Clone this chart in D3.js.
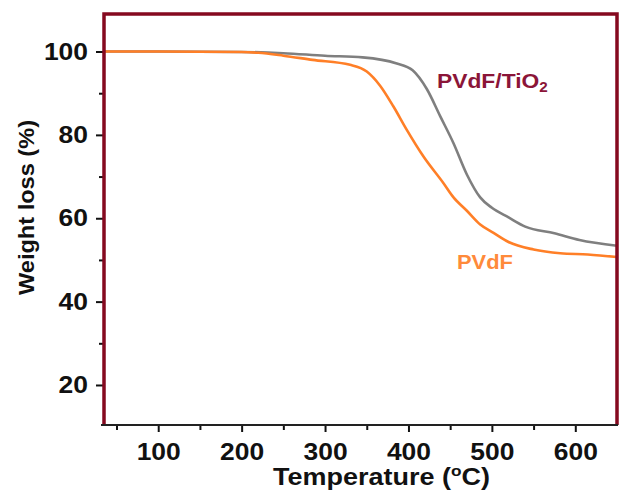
<!DOCTYPE html>
<html>
<head>
<meta charset="utf-8">
<script src="https://cdn.jsdelivr.net/npm/d3@7"></script>
<style>
  body { margin: 0; background: #fff; }
  svg { display: block; font-family: "Liberation Sans", Arial, sans-serif; }
</style>
</head>
<body>
<svg></svg>
<script>
// temperature (C) / weight (%)
const pvdfTemp   = [35, 100, 200, 220, 250, 285, 330, 350, 366, 382, 398, 418, 442, 454, 470, 486, 502, 520, 550, 582, 615, 650];
const pvdfWeight = [100, 100, 99.9, 99.7, 99, 98, 96.8, 95.2, 91.8, 86.8, 81.2, 74.8, 68.4, 65, 61.8, 58.5, 56.5, 54.3, 52.5, 51.6, 51.3, 50.7];

const tio2Temp   = [35, 100, 200, 250, 300, 345, 385, 405, 422, 438, 454, 470, 486, 500, 520, 540, 575, 605, 650];
const tio2Weight = [100, 100, 99.9, 99.6, 99, 98.6, 97.2, 95.5, 91, 84.5, 78, 70.5, 65, 62.5, 60.2, 58, 56.4, 54.8, 53.4];

const xTicks = [100, 200, 300, 400, 500, 600];
const xMinor = [50, 150, 250, 350, 450, 550];
const yTicks = [20, 40, 60, 80, 100];
const yMinor = [30, 50, 70, 90];

// the source font is drawn wide; stretch a text to a given width
function stretch(sel, width) {
  const w = sel.node().getBBox().width;
  return w ? width / w : 1;
}

function draw() {
  const svgWidth = 619, svgHeight = 491;
  const margin = { top: 14, right: 2, bottom: 66, left: 104 };
  const innerWidth  = svgWidth  - margin.left - margin.right;
  const innerHeight = svgHeight - margin.top  - margin.bottom;

  const svg = d3.select("svg")
    .attr("width", svgWidth)
    .attr("height", svgHeight);

  const xScale = d3.scaleLinear().domain([35, 650]).range([0, innerWidth]);
  const yScale = d3.scaleLinear().domain([10.4, 109]).range([innerHeight, 0]);

  const g = svg.append("g")
    .attr("transform", `translate(${margin.left},${margin.top})`);

  const xMinorG = g.append("g")
    .attr("transform", `translate(0,${innerHeight})`)
    .call(d3.axisBottom(xScale).tickValues(xMinor).tickSize(5).tickFormat(""));
  const xAxisG = g.append("g")
    .attr("transform", `translate(0,${innerHeight})`)
    .call(d3.axisBottom(xScale).tickValues(xTicks).tickSize(7).tickPadding(11));
  const yMinorG = g.append("g")
    .call(d3.axisLeft(yScale).tickValues(yMinor).tickSize(5).tickFormat(""));
  const yAxisG = g.append("g")
    .call(d3.axisLeft(yScale).tickValues(yTicks).tickSize(8).tickPadding(8));

  [xMinorG, xAxisG, yMinorG, yAxisG].forEach(a => {
    a.select(".domain").remove();
    a.selectAll(".tick line").attr("stroke", "#111").attr("stroke-width", 2);
  });
  [xAxisG, yAxisG].forEach(a => {
    a.selectAll(".tick text")
      .attr("fill", "#111")
      .attr("font-size", 23.5)
      .attr("font-weight", "bold")
      .attr("font-family", "'Liberation Sans', Arial, sans-serif")
      .attr("lengthAdjust", "spacingAndGlyphs")
      .attr("textLength", d => String(d).length * 14.7);
  });

  // curves
  const line = d3.line()
    .x(d => xScale(d[0]))
    .y(d => yScale(d[1]))
    .curve(d3.curveMonotoneX);

  const tio2 = tio2Temp.map((t, i) => [t, tio2Weight[i]]);
  const pvdf = pvdfTemp.map((t, i) => [t, pvdfWeight[i]]);

  g.append("path")
    .attr("d", line(tio2))
    .attr("fill", "none")
    .attr("stroke", "#7f7f7f")
    .attr("stroke-width", 2.6);
  g.append("path")
    .attr("d", line(pvdf))
    .attr("fill", "none")
    .attr("stroke", "#ff7f27")
    .attr("stroke-width", 2.6);

  // frame: dark red on three sides, black axis line at bottom
  const frameColor = "#85091f";
  g.append("path")
    .attr("d", `M0,${innerHeight} V0 H${innerWidth} V${innerHeight}`)
    .attr("fill", "none")
    .attr("stroke", frameColor)
    .attr("stroke-width", 3.5);
  g.append("line")
    .attr("x1", -3).attr("x2", innerWidth + 1)
    .attr("y1", innerHeight).attr("y2", innerHeight)
    .attr("stroke", "#222")
    .attr("stroke-width", 2);

  // series labels
  const tLabel = svg.append("text")
    .attr("fill", "#8b1538")
    .attr("font-size", 21)
    .attr("font-weight", "bold")
    .text("PVdF/TiO");
  tLabel.append("tspan")
    .attr("font-size", 14)
    .attr("dy", 3.5)
    .text("2");
  tLabel.attr("transform", `translate(437,88) scale(${stretch(tLabel, 111)},1)`);

  svg.append("text")
    .attr("x", 457)
    .attr("y", 269)
    .attr("fill", "#ff8a3a")
    .attr("font-size", 21)
    .attr("font-weight", "bold")
    .attr("lengthAdjust", "spacingAndGlyphs")
    .attr("textLength", 56)
    .text("PVdF");

  // axis titles
  const xTitle = svg.append("text")
    .attr("text-anchor", "middle")
    .attr("fill", "#111")
    .attr("font-size", 23.5)
    .attr("font-weight", "bold")
    .text("Temperature (");
  xTitle.append("tspan").attr("font-size", 15).attr("dy", -9).text("o");
  xTitle.append("tspan").attr("dy", 9).text("C)");
  xTitle.attr("transform", `translate(381.5,485) scale(${stretch(xTitle, 217)},1)`);

  svg.append("text")
    .attr("transform", `translate(34,207.5) rotate(-90)`)
    .attr("text-anchor", "middle")
    .attr("fill", "#111")
    .attr("font-size", 22)
    .attr("font-weight", "bold")
    .attr("lengthAdjust", "spacingAndGlyphs")
    .attr("textLength", 175)
    .text("Weight loss (%)");
}

draw();
</script>
</body>
</html>
